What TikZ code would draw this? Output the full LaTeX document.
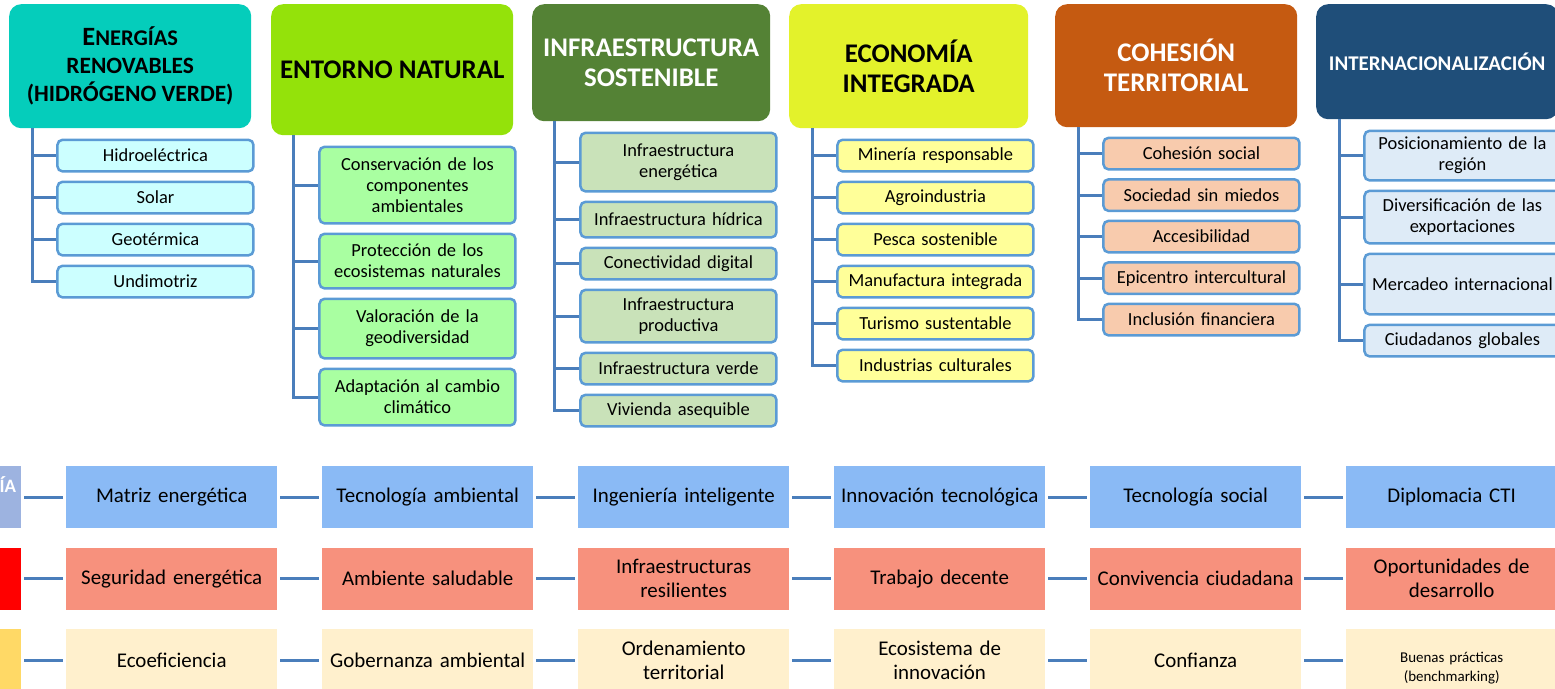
\documentclass[tikz,border=0pt]{standalone}
\usepackage{fontspec}
\setmainfont{Carlito}
\usetikzlibrary{
	matrix,
	positioning,
}
\definecolor{renov}{HTML}{05CDBB}
\definecolor{natur}{HTML}{94E20A}
\definecolor{infra}{HTML}{548235}
\definecolor{econ}{HTML}{E3F22B}
\definecolor{cohes}{HTML}{C55A11}
\definecolor{inter}{HTML}{1F4E79}
\definecolor{renovsub}{HTML}{CCFFFF}
\definecolor{natursub}{HTML}{A9FFA1}
\definecolor{infrasub}{HTML}{C9E2B9}
\definecolor{econsub}{HTML}{FFFF99}
\definecolor{cohessub}{HTML}{F8CBAD}
\definecolor{intersub}{HTML}{DEEBF7}
\definecolor{itemline}{HTML}{5B9BD5}
\definecolor{treeline}{HTML}{4A7EBB}
\definecolor{tecno}{HTML}{8ABAF5}
\definecolor{segur}{HTML}{F7917D}
\definecolor{gober}{HTML}{FFF0CD}
\definecolor{stubA}{HTML}{9DB3E0}
\definecolor{stubB}{HTML}{FF0000}
\definecolor{stubC}{HTML}{FFD966}
\tikzset{
	head/.style={anchor=north west, rounded corners=12bp, minimum width=242bp,
		inner sep=0pt, align=center, font=\bfseries\fontsize{27}{30}\selectfont},
	item/.style={draw=itemline, line width=2.5bp, rounded corners=5bp, anchor=center,
		minimum width=196bp, minimum height=31.5bp, inner sep=0pt,
		text width=190bp, align=center, font=\fontsize{18.5}{21}\selectfont},
	sub/.style={matrix of nodes, inner sep=0pt, row sep=8bp, nodes={item, fill=#1}},
	tree/.style={color=treeline, line width=3bp, to path={|- (\tikztotarget)}},
	link/.style={color=treeline, line width=3bp, shorten <=3bp, shorten >=3bp},
	stub/.style={fill=#1, text=white, text width=201bp, align=right,
		text height=14bp, text depth=24bp, font=\bfseries\fontsize{19}{22}\selectfont},
}
\begin{document}
\begin{tikzpicture}[x=1bp, y=-1bp]
\useasboundingbox (0,0) rectangle (1555,689);
\node[head, fill=renov, minimum height=124bp] (h1) at (9,4)
	{{\fontsize{26.5}{27}\selectfont E\fontsize{22.5}{27}\selectfont NERGÍAS}\\[-2bp]
	{\fontsize{23.5}{27}\selectfont RENOVABLES}\\[-2bp]
	{\fontsize{23.5}{27}\selectfont (HIDRÓGENO VERDE)}};
\node[head, fill=natur, minimum height=131bp] (h2) at (271,4) {ENTORNO NATURAL};
\node[head, fill=infra, text=white, minimum width=238bp, minimum height=117bp] (h3) at (532,4)
	{INFRAESTRUCTURA\\SOSTENIBLE};
\node[head, fill=econ, minimum width=239bp, minimum height=124bp] (h4) at (789,4)
	{ECONOMÍA\\INTEGRADA};
\node[head, fill=cohes, text=white, minimum height=123bp] (h5) at (1055,4)
	{COHESIÓN\\TERRITORIAL};
\node[head, fill=inter, text=white, minimum height=115bp,
	font=\bfseries\fontsize{21}{25}\selectfont] (h6) at (1316,4) {INTERNACIONALIZACIÓN};

\matrix (e) [sub=renovsub, below right=10bp and 47bp of h1.south west] {
	Hidroeléctrica \\
	Solar \\
	Geotérmica \\
	Undimotriz \\
};
\matrix (n) [sub=natursub, below right=10bp and 47bp of h2.south west] {
	|[minimum height=76.5bp]| {Conservación de los\\componentes\\ambientales} \\
	|[minimum height=54.5bp]| {Protección de los\\ecosistemas naturales} \\
	|[minimum height=59.5bp]| {Valoración de la\\geodiversidad} \\
	|[minimum height=56.5bp]| {Adaptación al cambio\\climático} \\
};
\matrix (s) [sub=infrasub, below right=10bp and 47bp of h3.south west] {
	|[minimum height=58.5bp]| {Infraestructura\\energética} \\
	|[minimum height=35.5bp]| Infraestructura hídrica \\
	Conectividad digital \\
	|[minimum height=52.5bp]| {Infraestructura\\productiva} \\
	Infraestructura verde \\
	Vivienda asequible \\
};
\matrix (i) [sub=econsub, below right=10bp and 47bp of h4.south west] {
	Minería responsable \\
	Agroindustria \\
	Pesca sostenible \\
	Manufactura integrada \\
	Turismo sustentable \\
	Industrias culturales \\
};
\matrix (c) [sub=cohessub, row sep=7.5bp, below right=9bp and 47bp of h5.south west] {
	Cohesión social \\
	Sociedad sin miedos \\
	Accesibilidad \\
	Epicentro intercultural \\
	Inclusión financiera \\
};
\matrix (x) [sub=intersub, below right=10bp and 47bp of h6.south west] {
	|[minimum height=49.5bp]| {Posicionamiento de la\\región} \\
	|[minimum height=52.5bp]| {Diversificación de las\\exportaciones} \\
	|[minimum height=60.5bp]| Mercadeo internacional \\
	Ciudadanos globales \\
};

\coordinate (t1) at ([xshift=23bp]h1.south west);
\coordinate (t2) at ([xshift=22bp]h2.south west);
\coordinate (t3) at ([xshift=22bp]h3.south west);
\coordinate (t4) at ([xshift=23bp]h4.south west);
\coordinate (t5) at ([xshift=23bp]h5.south west);
\coordinate (t6) at ([xshift=23bp]h6.south west);
\path[tree]
	(t1) edge (e-1-1) edge (e-2-1) edge (e-3-1) edge (e-4-1)
	(t2) edge (n-1-1) edge (n-2-1) edge (n-3-1) edge (n-4-1)
	(t3) edge (s-1-1) edge (s-2-1) edge (s-3-1) edge (s-4-1) edge (s-5-1) edge (s-6-1)
	(t4) edge (i-1-1) edge (i-2-1) edge (i-3-1) edge (i-4-1) edge (i-5-1) edge (i-6-1)
	(t5) edge (c-1-1) edge (c-2-1) edge (c-3-1) edge (c-4-1) edge (c-5-1)
	(t6) edge (x-1-1) edge (x-2-1) edge (x-3-1) edge (x-4-1);

\matrix (g) [
	matrix of nodes,
	nodes in empty cells,
	anchor=north west,
	inner sep=0pt,
	column sep=45bp,
	row sep=19.5bp,
	nodes={anchor=center, minimum width=211bp, minimum height=62bp, inner sep=0pt,
		text width=205bp, align=center, font=\fontsize{21}{24}\selectfont},
	row 1/.style={nodes={fill=tecno}},
	row 2/.style={nodes={fill=segur}},
	row 3/.style={nodes={fill=gober}},
] at (-190,466) {
	|[stub=stubA]| ÍA & Matriz energética & Tecnología ambiental & Ingeniería inteligente
		& Innovación tecnológica & Tecnología social & Diplomacia CTI \\
	|[stub=stubB]| & Seguridad energética & Ambiente saludable & {Infraestructuras\\resilientes}
		& Trabajo decente & Convivencia ciudadana & {Oportunidades de\\desarrollo} \\
	|[stub=stubC]| & Ecoeficiencia & Gobernanza ambiental & {Ordenamiento\\territorial}
		& {Ecosistema de\\innovación} & Confianza
		& |[font=\fontsize{15}{19}\selectfont, text height=18bp, text depth=14bp]|
		{Buenas prácticas\\(benchmarking)} \\
};
\foreach \r in {1,2,3}
	\foreach \c [count=\n from 2] in {1,...,6}
		\path[link] (g-\r-\c) edge (g-\r-\n);
\end{tikzpicture}
\end{document}
